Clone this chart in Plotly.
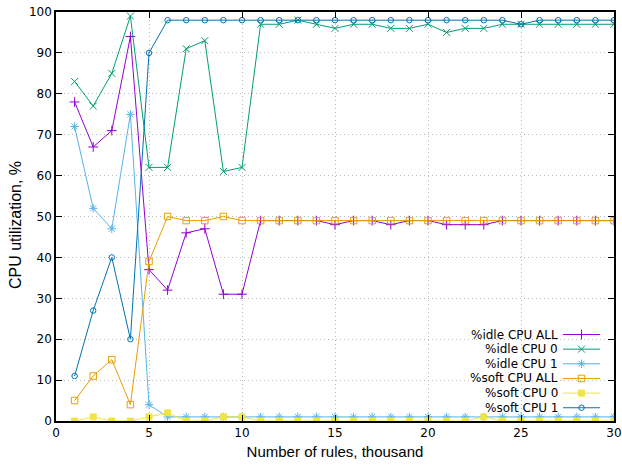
import plotly.graph_objects as go

x_rules = list(range(1, 31))

idle_all = [78, 67, 71, 94, 37, 32, 46, 47, 31, 31, 49, 49, 49, 49, 48, 49, 49, 48, 49, 49,
            48, 48, 48, 49, 49, 49, 49, 49, 49, 49]
idle_cpu0 = [83, 77, 85, 99, 62, 62, 91, 93, 61, 62, 97, 97, 98, 97, 96, 97, 97, 96, 96, 97,
             95, 96, 96, 97, 97, 97, 97, 97, 97, 97]
idle_cpu1 = [72, 52, 47, 75, 4, 1, 1, 1, 1, 1, 1, 1, 1, 1, 1, 1, 1, 1, 1, 1,
             1, 1, 1, 1, 1, 1, 1, 1, 1, 1]
soft_all = [5, 11, 15, 4, 39, 50, 49, 49, 50, 49, 49, 49, 49, 49, 49, 49, 49, 49, 49, 49,
            49, 49, 49, 49, 49, 49, 49, 49, 49, 49]
soft_cpu0 = [0, 1, 0, 0, 1, 2, 0, 0, 1, 1, 0, 0, 0, 0, 0, 0, 0, 0, 0, 0,
             0, 0, 1, 0, 0, 0, 0, 0, 0, 0]
soft_cpu1 = [11, 27, 40, 20, 90, 98, 98, 98, 98, 98, 98, 98, 98, 98, 98, 98, 98, 98, 98, 98,
             98, 98, 98, 98, 97, 98, 98, 98, 98, 98]

names = ["%idle CPU ALL", "%idle CPU 0", "%idle CPU 1", "%soft CPU ALL", "%soft CPU 0", "%soft CPU 1"]
series = [idle_all, idle_cpu0, idle_cpu1, soft_all, soft_cpu0, soft_cpu1]
colors = ["#9400D3", "#009E73", "#56B4E9", "#E69F00", "#F0E442", "#0072B2"]
symbols = ["cross-thin-open", "x-thin-open", "asterisk-open", "square-open", "square", "circle-open"]
sizes = [7, 7, 7, 6.5, 6, 5.5]

fig = go.Figure()
for name, ys, c, s, sz in zip(names, series, colors, symbols, sizes):
    fig.add_trace(go.Scatter(
        x=x_rules, y=ys, name=name, mode="lines+markers",
        line=dict(color=c, width=1),
        marker=dict(symbol=s, size=sz, color=c, line=dict(color=c, width=1)),
        showlegend=False, xaxis="x", yaxis="y",
    ))

# manual gnuplot-style key (text left, sample right)
L, R, T, B = 56, 614, 12, 421
W, H = R - L, B - T
def px(xp):
    return (xp - L) / W
def py(yp):
    return (B - yp) / H

annotations = []
for i, (name, c, s, sz) in enumerate(zip(names, colors, symbols, sizes)):
    yrow = 334.5 + 14.65 * i
    annotations.append(dict(
        x=px(560), y=py(yrow), xref="paper", yref="paper", text=name, showarrow=False,
        xanchor="right", yanchor="middle", font=dict(family="DejaVu Sans", size=12, color="black"),
    ))
    fig.add_trace(go.Scatter(
        x=[px(563), px(600)], y=[py(yrow), py(yrow)], mode="lines",
        line=dict(color=c, width=1), showlegend=False, xaxis="x2", yaxis="y2", hoverinfo="skip",
    ))
    fig.add_trace(go.Scatter(
        x=[px(581.5)], y=[py(yrow)], mode="markers",
        marker=dict(symbol=s, size=sz, color=c, line=dict(color=c, width=1)),
        showlegend=False, xaxis="x2", yaxis="y2", hoverinfo="skip",
    ))

# y axis title (placed like gnuplot)
annotations.append(dict(
    x=px(15), y=py(225), xref="paper", yref="paper", text="CPU utilization, %",
    showarrow=False, textangle=-90, xanchor="center", yanchor="middle",
    font=dict(family="Liberation Sans", size=16, color="black"),
))

grid_style = dict(showgrid=True, gridcolor="#b8b8b8", griddash="1px,3px", gridwidth=1)

fig.update_layout(
    width=622, height=465,
    margin=dict(l=L, r=622 - R, t=T, b=465 - B),
    paper_bgcolor="white", plot_bgcolor="white",
    annotations=annotations,
    xaxis=dict(
        range=[0, 30], tickvals=[0, 5, 10, 15, 20, 25, 30], automargin=False,
        ticks="inside", ticklen=6, tickcolor="black", tickwidth=1,
        showline=True, linecolor="black", linewidth=1.5, mirror="ticks",
        zeroline=False, **grid_style,
        tickfont=dict(family="DejaVu Sans", size=12, color="black"),
        title=dict(text="Number of rules, thousand", standoff=7,
                   font=dict(family="Liberation Sans", size=15, color="black")),
    ),
    yaxis=dict(
        range=[0, 100], tickvals=list(range(0, 101, 10)), automargin=False,
        ticks="inside", ticklen=6, tickcolor="black", tickwidth=1,
        showline=True, linecolor="black", linewidth=1.5, mirror="ticks",
        zeroline=False, **grid_style,
        tickfont=dict(family="DejaVu Sans", size=12, color="black"),
    ),
    xaxis2=dict(range=[0, 1], overlaying="x", visible=False, fixedrange=True),
    yaxis2=dict(range=[0, 1], overlaying="y", visible=False, fixedrange=True),
)

fig.write_html("out.html", config={"displayModeBar": False},
               post_script="document.body.style.margin='0';document.body.style.overflow='hidden';")
